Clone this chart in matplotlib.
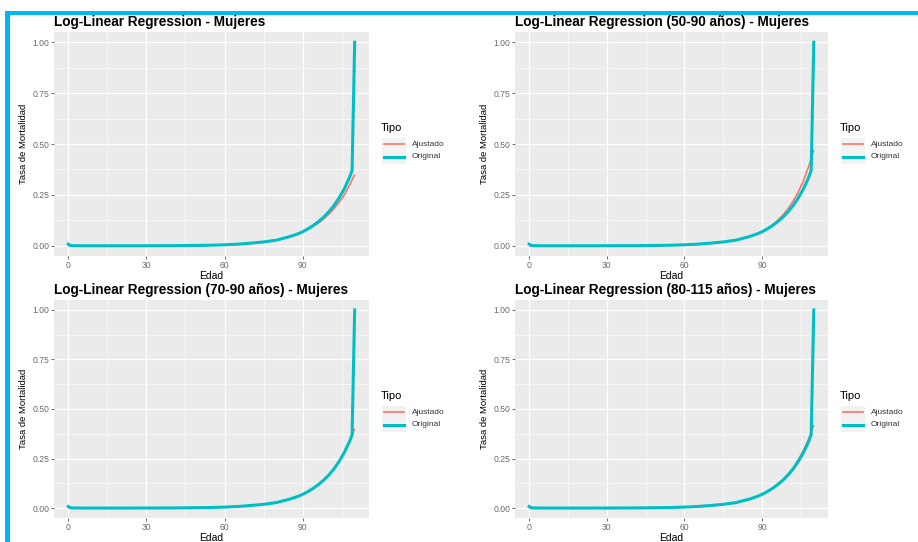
import matplotlib.pyplot as plt
from matplotlib.lines import Line2D
from matplotlib.patches import Rectangle
from matplotlib.ticker import MultipleLocator

plt.rcParams['font.family'] = ['Liberation Sans', 'DejaVu Sans']

# edad y tasa de mortalidad observada (mujeres)
edad = [0, 1, 5, 10, 20, 30, 40, 50, 55, 60, 65, 70, 75, 80, 85, 88, 90,
        92, 94, 96, 98, 100, 102, 104, 106, 108, 109, 110]
original = [0.008, 0.001, 0.0002, 0.0001, 0.0002, 0.0003, 0.0008, 0.002,
            0.003, 0.005, 0.008, 0.013, 0.019, 0.028, 0.045, 0.058, 0.069,
            0.083, 0.099, 0.118, 0.140, 0.166, 0.197, 0.235, 0.280, 0.335,
            0.370, 1.000]

# valores ajustados por cada modelo log-lineal
ajustado_total = [0.0002, 0.0002, 0.0002, 0.0003, 0.0004, 0.0006, 0.001,
                  0.002, 0.003, 0.005, 0.008, 0.013, 0.019, 0.028, 0.045,
                  0.058, 0.069, 0.081, 0.095, 0.112, 0.131, 0.155, 0.182,
                  0.213, 0.250, 0.297, 0.323, 0.350]
ajustado_50_90 = [0.0001, 0.0001, 0.0001, 0.0002, 0.0003, 0.0005, 0.0009,
                  0.002, 0.003, 0.005, 0.008, 0.013, 0.019, 0.028, 0.044,
                  0.057, 0.069, 0.084, 0.102, 0.124, 0.150, 0.181, 0.219,
                  0.264, 0.320, 0.388, 0.427, 0.470]
ajustado_70_90 = [0.0001, 0.0001, 0.0001, 0.0002, 0.0003, 0.0005, 0.0009,
                  0.002, 0.003, 0.005, 0.008, 0.013, 0.019, 0.028, 0.045,
                  0.058, 0.069, 0.082, 0.098, 0.117, 0.139, 0.166, 0.198,
                  0.236, 0.282, 0.336, 0.367, 0.400]
ajustado_80_115 = [0.0001, 0.0001, 0.0001, 0.0002, 0.0003, 0.0005, 0.0009,
                   0.002, 0.003, 0.005, 0.008, 0.013, 0.019, 0.028, 0.045,
                   0.058, 0.069, 0.083, 0.099, 0.119, 0.142, 0.170, 0.203,
                   0.243, 0.291, 0.348, 0.382, 0.420]

titulos = ['Log-Linear Regression - Mujeres',
           'Log-Linear Regression (50-90 años) - Mujeres',
           'Log-Linear Regression (70-90 años) - Mujeres',
           'Log-Linear Regression (80-115 años) - Mujeres']
ajustes = [ajustado_total, ajustado_50_90, ajustado_70_90, ajustado_80_115]

ROJO = '#F8766D'
CIAN = '#00BFC4'
W, H = 918, 542

fig = plt.figure(figsize=(W / 100, H / 100), dpi=100)

# paneles en pixeles: (izq, arriba, der, abajo)
paneles = [(54, 32, 369, 256), (515, 32, 828, 256),
           (54, 300, 369, 518), (515, 300, 828, 518)]

for (x0, y0, x1, y1), titulo, ajuste in zip(paneles, titulos, ajustes):
    ax = fig.add_axes([x0 / W, 1 - y1 / H, (x1 - x0) / W, (y1 - y0) / H])
    ax.set_facecolor('#EBEBEB')
    for s in ax.spines.values():
        s.set_visible(False)
    ax.plot(edad, ajuste, color=ROJO, lw=1.2, solid_capstyle='butt', zorder=3)
    ax.plot(edad, original, color=CIAN, lw=2.2, zorder=4)
    ax.set_xlim(-5.5, 115.5)
    ax.set_ylim(-0.05, 1.05)
    ax.xaxis.set_major_locator(MultipleLocator(30))
    ax.xaxis.set_minor_locator(MultipleLocator(15))
    ax.yaxis.set_minor_locator(MultipleLocator(0.125))
    ax.set_yticks([0, 0.25, 0.5, 0.75, 1.0])
    ax.set_yticklabels(['0.00', '0.25', '0.50', '0.75', '1.00'])
    ax.grid(which='major', color='white', lw=0.9)
    ax.grid(which='minor', color='white', lw=0.45)
    ax.set_axisbelow(True)
    ax.tick_params(which='major', length=2, width=0.6, color='#555555',
                   labelsize=6.2, labelcolor='#6A6A6A', pad=1.5)
    ax.tick_params(which='minor', length=0)
    ax.set_xlabel('Edad', fontsize=7.5, labelpad=0.5)
    ax.set_ylabel('Tasa de Mortalidad', fontsize=6.8, labelpad=3)
    ax.set_title(titulo, fontsize=9.8, fontweight='bold', loc='left', pad=4)

    # leyenda
    lx, ly = x1 + 12, y0 + 96
    fig.text(lx / W, 1 - ly / H, 'Tipo', fontsize=8, va='center', ha='left')
    for k, (col, lw, lab) in enumerate([(ROJO, 1.2, 'Ajustado'),
                                         (CIAN, 2.2, 'Original')]):
        yk = ly + 16 + 13 * k
        fig.patches.append(Rectangle(((lx + 1) / W, 1 - (yk + 6.5) / H),
                                     24 / W, 13 / H, transform=fig.transFigure,
                                     facecolor='#F2F2F2', edgecolor='none'))
        fig.lines.append(Line2D([(lx + 3) / W, (lx + 23) / W],
                                [1 - yk / H, 1 - yk / H],
                                transform=fig.transFigure, color=col, lw=lw))
        fig.text((lx + 31) / W, 1 - yk / H, lab, fontsize=6,
                 va='center', ha='left', color='#333333')

# marco
fig.patches.append(Rectangle((5 / W, 1 - 15 / H), 1, 4 / H,
                             transform=fig.transFigure, facecolor='#00B7EF',
                             edgecolor='none'))
fig.patches.append(Rectangle((5 / W, 0), 4.5 / W, 1 - 11 / H,
                             transform=fig.transFigure, facecolor='#00B7EF',
                             edgecolor='none'))

fig.savefig('out.png', dpi=100)
